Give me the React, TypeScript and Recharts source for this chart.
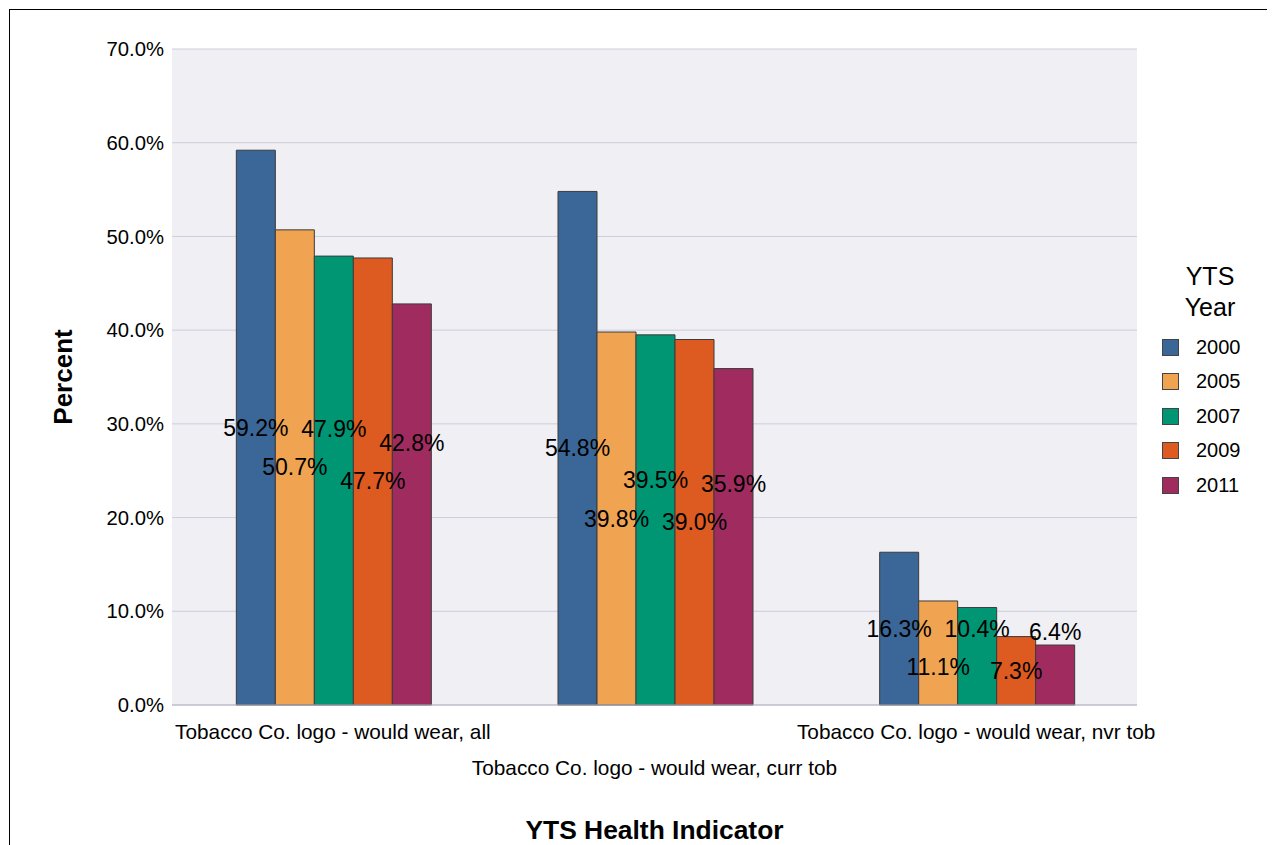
import React from "react";
import { BarChart, Bar, XAxis, YAxis, CartesianGrid, Legend, LabelList, Label } from "recharts";

const categories = [
  "Tobacco Co. logo - would wear, all",
  "Tobacco Co. logo - would wear, curr tob",
  "Tobacco Co. logo - would wear, nvr tob",
];
const years = ["2000", "2005", "2007", "2009", "2011"];
const v2000 = [59.2, 54.8, 16.3];
const v2005 = [50.7, 39.8, 11.1];
const v2007 = [47.9, 39.5, 10.4];
const v2009 = [47.7, 39.0, 7.3];
const v2011 = [42.8, 35.9, 6.4];
const yTicks = [0, 10, 20, 30, 40, 50, 60, 70];

const colors = ["#3a6698", "#f0a452", "#009674", "#dd5a21", "#a02c5f"];
const FONT = "'Liberation Sans', Arial, sans-serif";

const seriesValues = [v2000, v2005, v2007, v2009, v2011];

const data = categories.map((name, i) => {
  const row: any = { name };
  years.forEach((y, s) => (row[y] = seriesValues[s][i]));
  return row;
});

// label heights (in % units) with a simple greedy overlap check between neighbours
const STEP = 4.1;
const labelAt: number[][] = years.map(() => []);
categories.forEach((_, i) => {
  let prev: number | null = null;
  seriesValues.forEach((vals, s) => {
    const v = vals[i];
    let pos = v / 2;
    if (prev !== null && Math.abs(pos - prev) < 3) {
      const up = prev + STEP;
      const down = prev - STEP;
      if (up + 1.2 <= v) pos = up;
      else if (down >= 1.5) pos = down;
      else pos = up;
    }
    labelAt[s][i] = pos;
    prev = pos;
  });
});

const makeLabel = (s: number) => (props: any) => {
  const { x, y, width, height, index, value } = props;
  const pxPerUnit = height / value;
  const ly = y + height - labelAt[s][index] * pxPerUnit;
  return (
    <text x={x + width / 2} y={ly} textAnchor="middle" dominantBaseline="central" fontSize={23} fill="#000" fontFamily={FONT}>
      {Number(value).toFixed(1)}%
    </text>
  );
};

const XTick = (props: any) => {
  const { x, y, payload, index } = props;
  const dy = index % 2 === 0 ? 26 : 62;
  return (
    <text x={x} y={y + dy} textAnchor="middle" fontSize={20.8} fill="#000" fontFamily={FONT}>
      {payload.value}
    </text>
  );
};

const renderLegend = (props: any) => {
  const payload = props.payload || [];
  return (
    <div style={{ fontFamily: FONT, color: "#000" }}>
      <div style={{ textAlign: "center", fontSize: 25, lineHeight: "31px" }}>
        YTS
        <br />
        Year
      </div>
      <div style={{ marginTop: 7 }}>
        {payload.map((entry: any, i: number) => (
          <div key={i} style={{ height: 34.5, display: "flex", alignItems: "center" }}>
            <div
              style={{
                width: 17,
                height: 17,
                marginLeft: 14,
                background: entry.color,
                border: "1px solid #444",
                boxSizing: "border-box",
              }}
            />
            <span style={{ marginLeft: 17, fontSize: 20 }}>{entry.value}</span>
          </div>
        ))}
      </div>
    </div>
  );
};

export default function App() {
  return (
    <div style={{ width: 1267, height: 837, overflow: "hidden", position: "relative", background: "#fff" }}>
      <div
        style={{
          position: "absolute",
          left: 1,
          top: 1,
          width: 1400,
          height: 1000,
          border: "1px solid #000",
          boxSizing: "border-box",
        }}
      />
      <BarChart
        width={1267}
        height={837}
        data={data}
        margin={{ top: 41, right: 138, bottom: 0, left: 0 }}
        barCategoryGap="20%"
        barGap={0}
        style={{ position: "absolute", left: 0, top: 0 }}
      >
        <CartesianGrid vertical={false} stroke="#cdcddb" fill="#efeff4" />
        <XAxis
          dataKey="name"
          height={140}
          tickLine={false}
          axisLine={{ stroke: "#b4b4c4" }}
          tick={<XTick />}
          interval={0}
        >
          <Label
            content={(p: any) => {
              const vb = p.viewBox || { x: 164, y: 697, width: 965, height: 140 };
              return (
                <text x={vb.x + vb.width / 2} y={vb.y + 125} textAnchor="middle" dominantBaseline="central" fontSize={26.4} fontWeight="bold" fontFamily={FONT} fill="#000">
                  YTS Health Indicator
                </text>
              );
            }}
          />
        </XAxis>
        <YAxis
          width={164}
          domain={[0, 70]}
          ticks={yTicks}
          tickFormatter={(v: number) => `${v.toFixed(1)}%`}
          tickLine={false}
          axisLine={false}
          tick={{ fontSize: 20.3, fill: "#000", fontFamily: FONT }}
        >
          <Label
            content={(p: any) => {
              const vb = p.viewBox || { x: 0, y: 41, width: 164, height: 656 };
              const cx = vb.x + 55;
              const cy = vb.y + vb.height / 2;
              return (
                <text x={cx} y={cy} transform={`rotate(-90 ${cx} ${cy})`} textAnchor="middle" dominantBaseline="central" fontSize={26} fontWeight="bold" fontFamily={FONT} fill="#000">
                  Percent
                </text>
              );
            }}
          />
        </YAxis>
        <Legend
          layout="vertical"
          align="center"
          verticalAlign="middle"
          wrapperStyle={{ left: 1140, top: 253, width: 124 }}
          content={renderLegend}
        />
        {years.map((y, s) => (
          <Bar key={y} dataKey={y} fill={colors[s]} stroke="#3c3c3c" strokeWidth={1} isAnimationActive={false}>
            <LabelList dataKey={y} content={makeLabel(s)} />
          </Bar>
        ))}
      </BarChart>
    </div>
  );
}
